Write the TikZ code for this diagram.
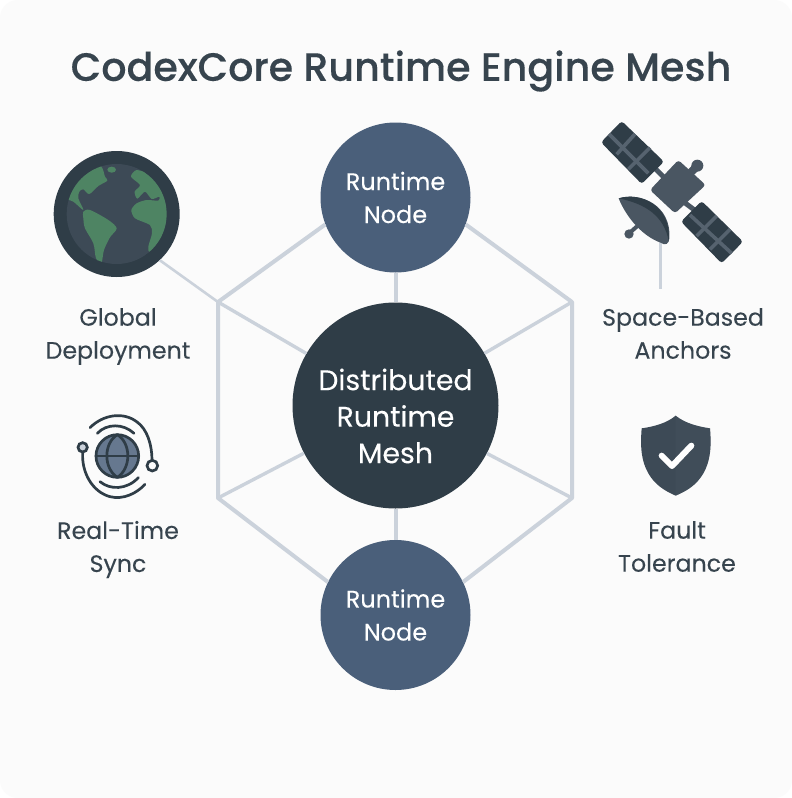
\documentclass[tikz,border=0pt]{standalone}
\usepackage{fontspec}
\setmainfont{Poppins}
\newfontfamily\titlefont{Poppins Medium}[FakeBold=0.25]
\newfontfamily\capfont{Poppins}[FakeBold=0.15]
\definecolor{pagebg}{HTML}{FBFBFB}
\definecolor{ink}{HTML}{2F3D47}
\definecolor{slate}{HTML}{4A5662}
\definecolor{globein}{HTML}{3D4A56}
\definecolor{land}{HTML}{4E8463}
\definecolor{nodeblue}{HTML}{4A5F7A}
\definecolor{edge}{HTML}{CBD2DB}
\definecolor{textc}{HTML}{37444E}
\definecolor{strip}{HTML}{56636F}
\definecolor{syncfill}{HTML}{66788F}
\tikzset{
  meshline/.style={draw=edge,line width=4pt,line join=round},
  thinline/.style={draw=edge,line width=2.6pt},
  runtimenode/.style={circle,fill=nodeblue,minimum size=150pt,inner sep=0pt,text=white,align=center,font=\capfont\fontsize{24}{33}\selectfont},
  hubnode/.style={circle,fill=ink,minimum size=206pt,inner sep=0pt},
  hubtext/.style={text=white,align=center,inner sep=0pt,font=\capfont\fontsize{28.4}{36.5}\selectfont},
  caption/.style={text=textc,align=center,inner sep=0pt,font=\capfont\fontsize{23.7}{33}\selectfont},
  zoomed/.style={x=0.33333pt,y=-0.33333pt},
  syncline/.style={draw=ink,line width=2.7pt,line cap=round}
}
\begin{document}
\begin{tikzpicture}[x=1pt,y=-1pt]
\useasboundingbox (0,0) rectangle (792,798);
\fill[white] (0,0) rectangle (792,798);
\fill[pagebg,rounded corners=18pt] (0,0) rectangle (792,798);
% coordinates of hexagon
\coordinate (hTL) at (218,302);
\coordinate (hTR) at (572,302);
\coordinate (hBL) at (218,498);
\coordinate (hBR) at (572,498);
\coordinate (satTop) at (660.5,242);
\coordinate (satEnd) at (660.5,289);
% main nodes
\node[hubnode] (hub) at (395.5,405.5) {};
\node[hubtext] (hublabel) at (395.5,416) {Distributed\\Runtime\\Mesh};
\node[runtimenode] (top) at (395.5,197.5) {Runtime\\Node};
\node[runtimenode] (bot) at (395.5,615) {Runtime\\Node};
\node[circle,fill=ink,minimum size=126pt,inner sep=0pt] (globe) at (116.7,214) {};
% connectors
\draw[meshline] (top.201) -- (hTL) -- (hBL) -- (bot.154);
\draw[meshline] (top.339) -- (hTR) -- (hBR) -- (bot.26);
\draw[meshline] (top) -- (hub);
\draw[meshline] (hub) -- (bot);
\draw[meshline,line width=3.4pt] (hTL) -- (hub);
\draw[meshline,line width=3.4pt] (hTR) -- (hub);
\draw[meshline,line width=3.4pt] (hBL) -- (hub);
\draw[meshline,line width=3.4pt] (hBR) -- (hub);
\draw[thinline] (globe.-47) -- (hTL);
\draw[thinline] (satTop) -- (satEnd);
% globe
\begin{scope}[shift={(30,130)},zoomed]
\begin{scope}
\clip (260,252) circle[radius=150];
\fill[globein] (260,252) circle[radius=150];
\fill[land] plot[smooth cycle,tension=0.5] coordinates {(100,200)(125,150)(170,115)(212,108)(225,140)(232,152)(205,168)(178,192)(160,178)(148,185)(145,205)(160,240)(130,215)};
\fill[land] plot[smooth cycle,tension=0.5] coordinates {(160,245)(180,240)(235,270)(260,295)(240,322)(222,360)(214,400)(198,385)(190,340)(165,295)(160,265)};
\fill[land] (245,119) ellipse[x radius=13,y radius=9];
\fill[land] plot[smooth cycle,tension=0.45] coordinates {(320,120)(303,140)(330,165)(314,185)(322,206)(345,185)(365,207)(388,200)(385,212)(350,210)(320,220)(304,240)(315,265)(360,285)(366,310)(355,350)(362,365)(420,320)(425,240)(395,175)(360,135)};
\end{scope}
\end{scope}
% satellite
\begin{scope}[shift={(590,110)},zoomed]
\draw[slate,line width=5pt] (195,175) -- (235,215);
\draw[slate,line width=5pt] (280,275) -- (320,305);
\draw[slate,line width=8pt] (300,190) -- (322,167);
\fill[ink,rounded corners=3pt] (95,33) -- (222,155) -- (155,222) -- (33,97) -- cycle;
\fill[ink,rounded corners=3pt] (335,273) -- (459,395) -- (395,460) -- (273,335) -- cycle;
\draw[strip,line width=3.6pt] (57,72) -- (175,190);
\draw[strip,line width=3.6pt] (80,133) -- (135,72);
\draw[strip,line width=3.6pt] (115,178) -- (180,113);
\draw[strip,line width=3.6pt] (300,315) -- (425,430);
\draw[strip,line width=3.6pt] (320,378) -- (380,318);
\draw[strip,line width=3.6pt] (360,418) -- (420,358);
\fill[slate] (322,167) circle[radius=18];
\fill[slate,rounded corners=3pt] (265,150) -- (347,225) -- (255,310) -- (180,240) -- cycle;
\draw[slate,line width=4pt,line cap=round] (115,372) -- (165,328);
\fill[slate] (117,372) circle[radius=14];
\fill[slate] (86,265) .. controls (150,245) and (245,285) .. (238,385) .. controls (238,402) and (225,408) .. (212,398) .. controls (160,380) and (110,325) .. (86,265) -- cycle;
\fill[ink] (86,265) .. controls (150,245) and (245,285) .. (236,392) .. controls (222,320) and (170,282) .. (86,265) -- cycle;
\end{scope}
% sync
\begin{scope}[shift={(60,405)},zoomed]
\fill[syncfill] (172,153) circle[radius=64];
\draw[syncline] (172,153) circle[radius=64];
\draw[syncline] (172,89) .. controls (130,115) and (130,190) .. (172,217);
\draw[syncline] (172,89) .. controls (214,115) and (214,190) .. (172,217);
\draw[syncline] (108,153) -- (236,153);
\draw[syncline] (90,68) .. controls (130,28) and (190,20) .. (230,50) .. controls (262,72) and (276,120) .. (276,165);
\draw[syncline] (68,145) .. controls (65,200) and (95,260) .. (150,275) .. controls (190,285) and (230,265) .. (255,238);
\draw[syncline] (112,85) .. controls (140,55) and (190,55) .. (222,85);
\draw[syncline] (120,230) .. controls (150,255) and (200,255) .. (235,218);
\draw[syncline,fill=pagebg] (277,182) circle[radius=16];
\draw[syncline,fill=edge] (68,127) circle[radius=14];
\end{scope}
% shield
\begin{scope}[shift={(625,405)},zoomed]
\fill[globein] (152,32) .. controls (125,55) and (85,65) .. (50,70) .. controls (45,130) and (50,170) .. (70,205) .. controls (90,240) and (120,258) .. (152,272) .. controls (185,258) and (215,240) .. (235,205) .. controls (255,170) and (260,130) .. (255,70) .. controls (220,65) and (180,55) .. (152,32) -- cycle;
\fill[slate,opacity=0.25] (152,32) .. controls (180,55) and (220,65) .. (255,70) .. controls (260,130) and (255,170) .. (235,205) .. controls (215,240) and (185,258) .. (152,272) -- cycle;
\draw[white,line width=6pt,line cap=round,line join=round] (110,152) -- (141,183) -- (199,122);
\end{scope}
% text
\node[text=textc,inner sep=0pt,font=\titlefont\fontsize{39.6}{48}\selectfont] (title) at (401,71) {CodexCore Runtime Engine Mesh};
\node[caption] (cap1) at (118,336.5) {Global\\Deployment};
\node[caption] (cap2) at (683,333.5) {Space-Based\\Anchors};
\node[caption] (cap3) at (118,549.5) {Real-Time\\Sync};
\node[caption] (cap4) at (677,546.5) {Fault\\Tolerance};
\end{tikzpicture}
\end{document}
